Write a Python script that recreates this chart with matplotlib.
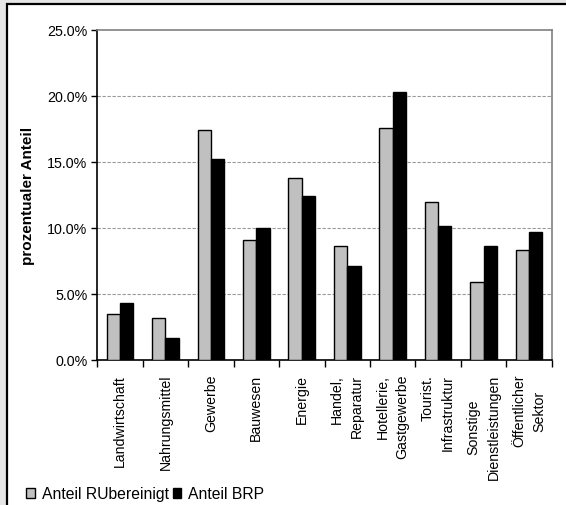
import matplotlib
matplotlib.use("Agg")
import matplotlib.pyplot as plt
from matplotlib.patches import Rectangle
from matplotlib.ticker import FixedLocator, FuncFormatter
import numpy as np

plt.rcParams['font.family'] = ['Liberation Sans', 'DejaVu Sans']

categories = ["Landwirtschaft", "Nahrungsmittel", "Gewerbe", "Bauwesen", "Energie",
              "Handel,\nReparatur", "Hotellerie,\nGastgewerbe", "Tourist.\nInfrastruktur",
              "Sonstige\nDienstleistungen", "Öffentlicher\nSektor"]
label_align = ["center", "center", "center", "center", "center",
               "right", "right", "right", "center", "center"]
anteil_ru = [3.5, 3.2, 17.4, 9.1, 13.8, 8.65, 17.55, 11.95, 5.9, 8.35]
anteil_brp = [4.3, 1.7, 15.2, 10.0, 12.45, 7.1, 20.3, 10.15, 8.6, 9.7]
series_names = ["Anteil RUbereinigt", "Anteil BRP"]
yticks = [0, 5, 10, 15, 20, 25]

W, H = 566, 506
fig = plt.figure(figsize=(W / 100, H / 100), dpi=100)
fig.patch.set_facecolor("#e6e6e6")
# white panel with black border (left & top visible)
fig.patches.append(Rectangle((7 / W, -0.05), 1.1, 1 - 4.5 / H + 0.05,
                             transform=fig.transFigure, facecolor="white",
                             edgecolor="black", linewidth=1.6, zorder=-10))

ax = fig.add_axes([97.3 / W, 1 - 361 / H, (551.7 - 97.3) / W, (361 - 31) / H])
ax.set_facecolor("white")

x = np.arange(len(categories))
bw = 0.293
b1 = ax.bar(x - bw / 2, anteil_ru, bw, color="#c0c0c0", edgecolor="black", linewidth=1.0, zorder=3)
b2 = ax.bar(x + bw / 2, anteil_brp, bw, color="black", edgecolor="black", linewidth=1.0, zorder=3)

ax.set_xlim(-0.5, len(categories) - 0.5)
ax.set_ylim(0, 25)
ax.yaxis.set_major_locator(FixedLocator(yticks))
ax.yaxis.set_major_formatter(FuncFormatter(lambda v, p: f"{v:.1f}%"))
ax.tick_params(axis="y", direction="out", length=4, width=1, labelsize=10.3, pad=3, colors="black")

ax.set_xticks(x)
ax.set_xticklabels(categories, rotation=90, fontsize=10.2, va="top", ha="center", linespacing=1.55)
for lbl, al in zip(ax.get_xticklabels(), label_align):
    lbl.set_multialignment(al)
ax.set_xticks(np.arange(-0.5, len(categories)), minor=True)
ax.tick_params(axis="x", which="major", length=0, pad=10)
ax.tick_params(axis="x", which="minor", length=5, width=1, direction="out")

for v in yticks[1:-1]:
    ax.axhline(v, color="#999999", linestyle=(0, (3, 1.5)), linewidth=0.8, zorder=1)

ax.spines["left"].set_color("black")
ax.spines["left"].set_linewidth(1.2)
ax.spines["bottom"].set_color("black")
ax.spines["bottom"].set_linewidth(1.2)
ax.spines["top"].set_color("#808080")
ax.spines["top"].set_linewidth(1.2)
ax.spines["right"].set_color("#808080")
ax.spines["right"].set_linewidth(1.2)

ax.set_ylabel("prozentualer Anteil", fontsize=11, fontweight="bold")
ax.yaxis.set_label_coords(-0.137, 0.5)

fig.legend([b1, b2], series_names, loc="center left", bbox_to_anchor=(26 / W, 1 - 495 / H),
           ncol=2, frameon=False, fontsize=11.3, handlelength=0.55, handleheight=0.55,
           handletextpad=0.45, columnspacing=0.25, borderpad=0, borderaxespad=0)

fig.savefig("out.png", dpi=100, facecolor=fig.get_facecolor())
